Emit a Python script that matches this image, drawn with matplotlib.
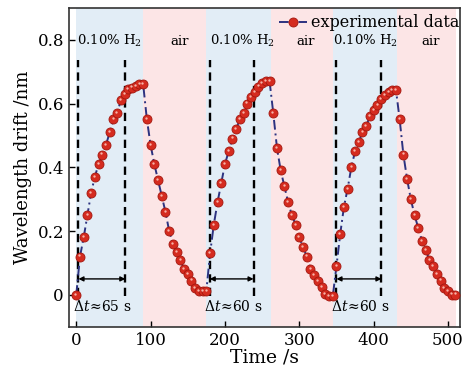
import numpy as np
import matplotlib as mpl
mpl.use('Agg')
import matplotlib.pyplot as plt
import matplotlib.transforms as mtransforms

# sampling every 5 s
time = np.arange(0, 515, 5)
drift = [
    # cycle 1 rise (0-85)
    0.00, 0.12, 0.18, 0.25, 0.32, 0.37, 0.41, 0.44, 0.47, 0.51,
    0.55, 0.57, 0.61, 0.63, 0.645, 0.65, 0.655, 0.66,
    # cycle 1 decay (90-170)
    0.66, 0.55, 0.47, 0.41, 0.36, 0.31, 0.26, 0.20, 0.16, 0.135,
    0.11, 0.08, 0.065, 0.045, 0.02, 0.013, 0.013,
    # cycle 2 rise (175-255)
    0.013, 0.13, 0.22, 0.29, 0.35, 0.41, 0.45, 0.49, 0.52, 0.55,
    0.57, 0.60, 0.62, 0.636, 0.653, 0.665, 0.67,
    # cycle 2 decay (260-340)
    0.67, 0.57, 0.46, 0.39, 0.34, 0.29, 0.25, 0.22, 0.18, 0.15,
    0.12, 0.082, 0.062, 0.043, 0.024, 0.003, -0.005,
    # cycle 3 rise (345-425)
    -0.005, 0.09, 0.19, 0.275, 0.333, 0.40, 0.45, 0.48, 0.51, 0.53,
    0.56, 0.58, 0.595, 0.613, 0.626, 0.636, 0.643,
    # cycle 3 decay (430-510)
    0.643, 0.55, 0.44, 0.363, 0.30, 0.25, 0.21, 0.17, 0.14, 0.11,
    0.09, 0.064, 0.045, 0.022, 0.012, 0.001, 0.001,
]

h2_spans = [(0, 90), (175, 262), (345, 431)]
air_spans = [(90, 175), (262, 345), (431, 511)]
dt_marks = [(3, 66), (179.5, 238.5), (350, 410.5)]
dt_labels = [r'$\Delta t\!\approx\!$65 s', r'$\Delta t\!\approx\!$60 s', r'$\Delta t\!\approx\!$60 s']
h2_label_x = [45, 223, 389]
air_label_x = [139, 308, 477]

plt.rcParams['font.family'] = 'DejaVu Serif'
plt.rcParams['mathtext.fontset'] = 'dejavuserif'

fig = plt.figure(figsize=(4.65, 3.73), dpi=100)
ax = fig.add_axes([0.148, 0.124, 0.841, 0.855])

for a, b in h2_spans:
    ax.axvspan(a, b, color='#e2edf6', lw=0, zorder=0)
for a, b in air_spans:
    ax.axvspan(a, b, color='#fce5e6', lw=0, zorder=0)

for (a, b), lab in zip(dt_marks, dt_labels):
    ax.vlines([a, b], -0.005, 0.737, colors='black', linestyles=(0, (3.5, 2.2)), lw=1.7, zorder=1)
    ax.annotate('', xy=(a, 0.05), xytext=(b, 0.05),
                arrowprops=dict(arrowstyle='<|-|>', color='black', lw=1.0,
                                mutation_scale=7, shrinkA=0, shrinkB=0), zorder=2)
    ax.text(a - 8, -0.035, lab, fontsize=10, ha='left', va='center', zorder=3)

for x in h2_label_x:
    ax.text(x, 0.795, r'0.10% H$_2$', fontsize=9.5, ha='center', va='center')
for x in air_label_x:
    ax.text(x, 0.795, 'air', fontsize=9.5, ha='center', va='center')

line, = ax.plot(time, drift, color='#2c3280', lw=1.4, linestyle=(0, (5, 2, 1, 2)),
                marker='o', markersize=6.5, markerfacecolor='#d52b1f',
                markeredgecolor='#a3170f', markeredgewidth=0.6, zorder=4,
                label='experimental data')
# little highlight on each sphere
offset = mtransforms.offset_copy(ax.transData, fig=fig, x=-0.6, y=0.8, units='points')
ax.plot(time, drift, linestyle='none', marker='o', markersize=1.7,
        markerfacecolor='#f6b3a8', markeredgewidth=0, transform=offset, zorder=5)

ax.set_xlim(-10, 516)
ax.set_ylim(-0.1, 0.9)
ax.set_xticks([0, 100, 200, 300, 400, 500])
ax.set_yticks([0, 0.2, 0.4, 0.6, 0.8])
ax.set_yticklabels(['0', '0.2', '0.4', '0.6', '0.8'])
ax.tick_params(direction='in', labelsize=12, length=4, width=1)
for s in ax.spines.values():
    s.set_linewidth(1.2)
    s.set_color('#333333')

ax.set_xlabel('Time /s', fontsize=13.5, labelpad=0)
ax.set_ylabel('Wavelength drift /nm', fontsize=13, labelpad=4)

ax.legend(handles=[line], loc='upper right', frameon=False, fontsize=11.5,
          handlelength=1.8, handletextpad=0.2, borderaxespad=0.1,
          bbox_to_anchor=(1.018, 1.005))

fig.savefig('out.png', dpi=100)
